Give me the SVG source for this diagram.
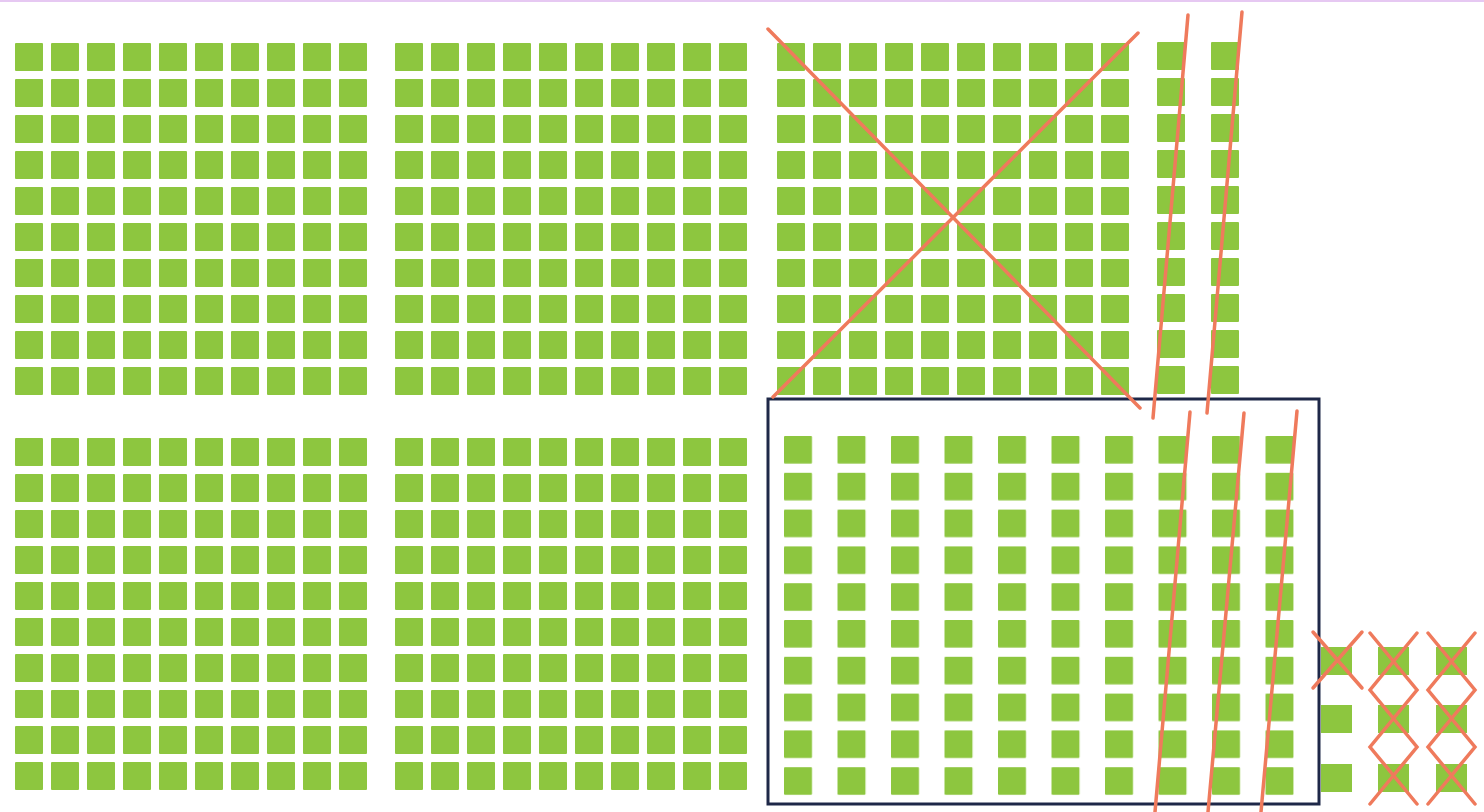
<svg xmlns="http://www.w3.org/2000/svg" width="1484" height="812" viewBox="0 0 1484 812">
<style>
.sq{fill:#8DC63F}
.red{stroke:#EF7A5C;stroke-width:3.5;fill:none;stroke-linecap:round}
.box{stroke:#1E2848;stroke-width:3;fill:none}
</style>
<defs>
<pattern id="g" patternUnits="userSpaceOnUse" x="0" y="0" width="36" height="36"><rect class="sq" x="0" y="0" width="28" height="28" rx="1"/></pattern>
<pattern id="gs" patternUnits="userSpaceOnUse" x="0" y="0" width="54" height="36"><rect class="sq" x="0" y="0" width="28" height="28" rx="1"/></pattern>
<pattern id="gb" patternUnits="userSpaceOnUse" x="0" y="0" width="53.5" height="36.8"><rect class="sq" x="0" y="0" width="28" height="27.5" rx="1"/></pattern>
<g id="grid10"><rect x="0" y="0" width="352" height="352" fill="url(#g)"/></g>
</defs>
<rect x="0" y="0" width="1484" height="812" fill="#ffffff"/>
<rect x="0" y="0" width="1484" height="2" fill="#E6C8F2"/>
<g id="grid-top-1"><use href="#grid10" x="15" y="43"/></g>
<g id="grid-top-2"><use href="#grid10" x="395" y="43"/></g>
<g id="grid-top-3"><use href="#grid10" x="777" y="43"/></g>
<g id="grid-bottom-1"><use href="#grid10" x="15" y="438"/></g>
<g id="grid-bottom-2"><use href="#grid10" x="395" y="438"/></g>
<g id="strips-top"><g transform="translate(1157,42)"><rect x="0" y="0" width="82" height="352" fill="url(#gs)"/></g></g>
<g id="box-squares"><g transform="translate(784,436)"><rect x="0" y="0" width="510" height="360" fill="url(#gb)"/></g></g>
<g id="small-squares">
<rect class="sq" x="1321" y="647" width="31" height="28"/>
<rect class="sq" x="1321" y="705" width="31" height="28"/>
<rect class="sq" x="1321" y="764" width="31" height="28"/>
<rect class="sq" x="1378" y="647" width="31" height="28"/>
<rect class="sq" x="1378" y="705" width="31" height="28"/>
<rect class="sq" x="1378" y="764" width="31" height="28"/>
<rect class="sq" x="1436" y="647" width="31" height="28"/>
<rect class="sq" x="1436" y="705" width="31" height="28"/>
<rect class="sq" x="1436" y="764" width="31" height="28"/>
</g>
<rect id="box" class="box" x="768" y="399" width="551" height="405"/>
<g id="marks">
<line class="red" x1="768" y1="29" x2="1140" y2="408"/>
<line class="red" x1="1138" y1="33" x2="773" y2="397"/>
<line class="red" x1="1188" y1="15" x2="1153" y2="418"/>
<line class="red" x1="1242" y1="12" x2="1207" y2="413"/>
<line class="red" x1="1190" y1="412" x2="1155" y2="812"/>
<line class="red" x1="1244" y1="413" x2="1208" y2="812"/>
<line class="red" x1="1297" y1="411" x2="1261" y2="812"/>
<path class="red" d="M1313,632 L1362,688 M1362,632 L1313,688"/>
<path class="red" d="M1370,633 L1417,690 L1370,747 L1417,804 M1417,633 L1370,690 L1417,747 L1370,804"/>
<path class="red" d="M1428,633 L1475,690 L1428,747 L1475,804 M1475,633 L1428,690 L1475,747 L1428,804"/>
</g>
</svg>
